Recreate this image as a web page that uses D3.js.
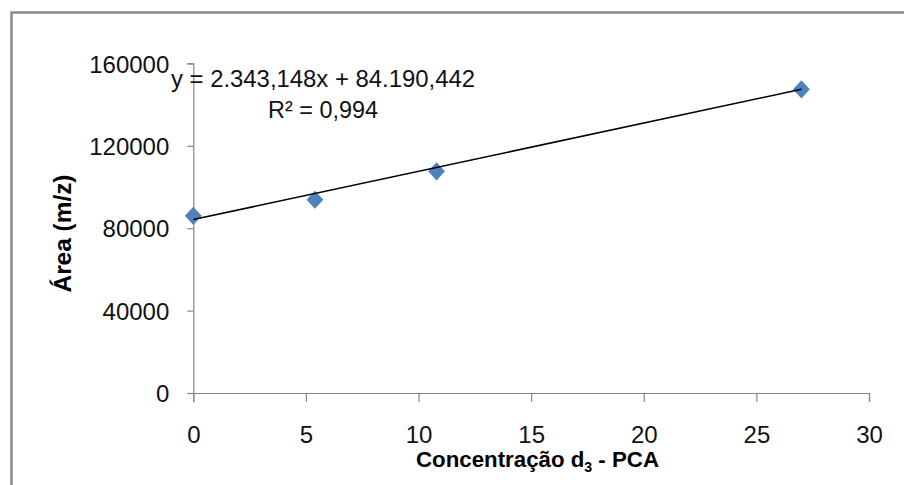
<!DOCTYPE html>
<html>
<head>
<meta charset="utf-8">
<script src="https://cdn.jsdelivr.net/npm/d3@7"></script>
<style>
  html, body { margin: 0; padding: 0; background: #fff; }
  svg { display: block; }
</style>
</head>
<body>
<svg id="chart" width="904" height="485"></svg>
<script>
// ---- data ----
const concentrations = [0, 5.4, 10.8, 27];
const areas = [86000, 93800, 107600, 147400];
const xTicks = [0, 5, 10, 15, 20, 25, 30];
const yTicks = [0, 40000, 80000, 120000, 160000];
const slope = 2343.148;
const intercept = 84190.442;
const equationLabel = "y = 2.343,148x + 84.190,442";
const r2Label = "R² = 0,994";
const xTitle = ["Concentração d", "3", " - PCA"];
const yTitle = "Área (m/z)";

// ---- layout ----
const svg = d3.select("#chart");
const plotLeft = 193.3, plotRight = 869, plotTop = 63.4, plotBottom = 393;
const x = d3.scaleLinear().domain([0, 30]).range([plotLeft, plotRight]);
const y = d3.scaleLinear().domain([0, 160000]).range([plotBottom, plotTop]);
const axisColor = "#878787";
const font = "'Liberation Sans', Arial, sans-serif";

svg.append("rect").attr("width", 904).attr("height", 485).attr("fill", "#fff");

// outer chart frame
svg.append("rect")
  .attr("x", 11.5).attr("y", 12.5).attr("width", 1000).attr("height", 1000)
  .attr("fill", "none").attr("stroke", "#8a8a8a").attr("stroke-width", 2.5);

// axes
const yAxis = svg.append("g").attr("transform", `translate(${plotLeft},0)`)
  .call(d3.axisLeft(y).tickValues(yTicks).tickFormat(d3.format("d"))
    .tickSize(6).tickSizeOuter(6).tickPadding(18));
const xAxis = svg.append("g").attr("transform", `translate(0,${plotBottom})`)
  .call(d3.axisBottom(x).tickValues(xTicks).tickFormat(d3.format("d"))
    .tickSize(9).tickSizeOuter(9));

[yAxis, xAxis].forEach(g => {
  g.select(".domain").attr("stroke", axisColor).attr("stroke-width", 1.2);
  g.selectAll(".tick line").attr("stroke", axisColor).attr("stroke-width", 1.2);
  g.selectAll(".tick text").attr("fill", "#111").style("font-family", font).style("font-size", "24px");
});
xAxis.selectAll(".tick text").attr("y", 50).attr("dy", 0);
yAxis.selectAll(".tick text").attr("dy", "0.36em");

// markers
const sym = d3.symbol().type(d3.symbolDiamond2).size(180);
svg.append("g").selectAll("path")
  .data(concentrations.map((c, i) => [c, areas[i]]))
  .join("path")
  .attr("d", sym)
  .attr("transform", d => `translate(${x(d[0])},${y(d[1])}) scale(1,1.08)`)
  .attr("fill", "#4F81BD");

// trendline (drawn over markers, as in reference)
svg.append("line")
  .attr("x1", x(0)).attr("y1", y(intercept))
  .attr("x2", x(27)).attr("y2", y(intercept + slope * 27))
  .attr("stroke", "#000").attr("stroke-width", 1.5);

// equation labels
svg.append("text").attr("x", 171).attr("y", 87)
  .attr("textLength", 304).attr("lengthAdjust", "spacingAndGlyphs")
  .style("font-family", font).style("font-size", "24px").attr("fill", "#111")
  .text(equationLabel);
svg.append("text").attr("x", 268).attr("y", 118)
  .attr("textLength", 110).attr("lengthAdjust", "spacingAndGlyphs")
  .style("font-family", font).style("font-size", "24px").attr("fill", "#111")
  .text(r2Label);

// axis titles
const xt = svg.append("text").attr("x", 416).attr("y", 467)
  .attr("textLength", 243).attr("lengthAdjust", "spacingAndGlyphs")
  .style("font-family", font).style("font-size", "22px").style("font-weight", "bold").attr("fill", "#000");
xt.append("tspan").text(xTitle[0]);
xt.append("tspan").attr("dy", 5).style("font-size", "14px").text(xTitle[1]);
xt.append("tspan").attr("dy", -5).text(xTitle[2]);

svg.append("text")
  .attr("transform", "translate(71,233.5) rotate(-90)")
  .attr("text-anchor", "middle")
  .attr("textLength", 118).attr("lengthAdjust", "spacingAndGlyphs")
  .style("font-family", font).style("font-size", "23px").style("font-weight", "bold").attr("fill", "#000")
  .text(yTitle);
</script>
</body>
</html>
